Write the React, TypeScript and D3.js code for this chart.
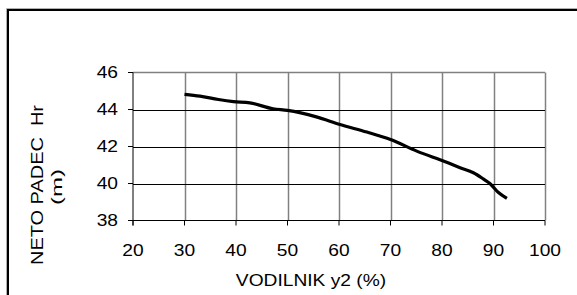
import React, { useEffect, useRef } from "react";
import * as d3 from "d3";

// VODILNIK y2 (%) vs NETO PADEC Hr (m)
const vodilnik = [30, 33, 36.6, 39.5, 42.7, 47.2, 50, 55.6, 60.2, 65.4, 70, 75.1, 80.9, 83.5, 86.1, 88, 89.3, 90.9, 92.6];
const padec = [44.82, 44.72, 44.54, 44.43, 44.36, 44.04, 43.95, 43.6, 43.19, 42.78, 42.38, 41.75, 41.15, 40.85, 40.58, 40.25, 40.0, 39.53, 39.2];
const xTicks = [20, 30, 40, 50, 60, 70, 80, 90, 100];
const yTicks = [38, 40, 42, 44, 46];

const FONT = "'Liberation Sans', Arial, sans-serif";
const STRETCH = 1.2;

const App = () => {
  const ref = useRef<SVGSVGElement>(null);

  useEffect(() => {
    const svg = d3.select(ref.current);
    svg.selectAll("*").remove();

    const x = d3.scaleLinear().domain([20, 100]).range([133, 545]);
    const y = d3.scaleLinear().domain([38, 46]).range([220.5, 72.5]);

    // chart frame (runs off the right and bottom of the picture)
    svg.append("path").attr("d", "M6.5,295 V8.5 H577").attr("fill", "none").attr("stroke", "#b0b0b0").attr("stroke-width", 1);
    svg.append("path").attr("d", "M8,295 V10 H577").attr("fill", "none").attr("stroke", "#000").attr("stroke-width", 2);

    const g = svg.append("g");

    // vertical gridlines (gray)
    g.selectAll("line.vgrid")
      .data(xTicks.slice(1))
      .enter()
      .append("line")
      .attr("class", "vgrid")
      .attr("x1", (d) => Math.round(x(d)) + 0.5)
      .attr("x2", (d) => Math.round(x(d)) + 0.5)
      .attr("y1", y(46))
      .attr("y2", y(38))
      .attr("stroke", "#808080")
      .attr("stroke-width", 1.5);

    // top border gray
    g.append("line")
      .attr("x1", x(20))
      .attr("x2", x(100))
      .attr("y1", y(46))
      .attr("y2", y(46))
      .attr("stroke", "#808080")
      .attr("stroke-width", 1.5);

    // horizontal gridlines (black)
    g.selectAll("line.hgrid")
      .data(yTicks.slice(1, -1))
      .enter()
      .append("line")
      .attr("class", "hgrid")
      .attr("x1", x(20))
      .attr("x2", x(100))
      .attr("y1", (d) => Math.round(y(d)) + 0.5)
      .attr("y2", (d) => Math.round(y(d)) + 0.5)
      .attr("stroke", "#000")
      .attr("stroke-width", 1);

    // axes
    const axisColor = "#000";
    g.append("line").attr("x1", x(20)).attr("x2", x(20)).attr("y1", y(46)).attr("y2", y(38) + 5).attr("stroke", axisColor);
    g.append("line").attr("x1", x(20) - 5).attr("x2", x(100)).attr("y1", y(38)).attr("y2", y(38)).attr("stroke", axisColor);

    g.selectAll("line.ytick")
      .data(yTicks)
      .enter()
      .append("line")
      .attr("class", "ytick")
      .attr("x1", x(20) - 5)
      .attr("x2", x(20))
      .attr("y1", (d) => y(d))
      .attr("y2", (d) => y(d))
      .attr("stroke", axisColor);

    g.selectAll("line.xtick")
      .data(xTicks)
      .enter()
      .append("line")
      .attr("class", "xtick")
      .attr("x1", (d) => x(d))
      .attr("x2", (d) => x(d))
      .attr("y1", y(38))
      .attr("y2", y(38) + 5)
      .attr("stroke", axisColor);

    // tick labels
    g.selectAll("text.ylab")
      .data(yTicks)
      .enter()
      .append("text")
      .attr("class", "ylab")
      .attr("transform", (d) => `translate(118,${y(d) + 5.6}) scale(${STRETCH},1)`)
      .attr("text-anchor", "end")
      .attr("font-family", FONT)
      .attr("font-size", 16)
      .text((d) => d);

    g.selectAll("text.xlab")
      .data(xTicks)
      .enter()
      .append("text")
      .attr("class", "xlab")
      .attr("transform", (d) => `translate(${x(d)},256) scale(${STRETCH},1)`)
      .attr("text-anchor", "middle")
      .attr("font-family", FONT)
      .attr("font-size", 16)
      .text((d) => d);

    // axis titles
    g.append("text")
      .attr("transform", `translate(311,285.5) scale(${STRETCH},1)`)
      .attr("text-anchor", "middle")
      .attr("font-family", FONT)
      .attr("font-size", 16)
      .text("VODILNIK y2 (%)");

    g.append("text")
      .attr("transform", `translate(42.5,185) rotate(-90)`)
      .attr("text-anchor", "middle")
      .attr("font-family", FONT)
      .attr("font-size", 16)
      .attr("textLength", 160)
      .attr("lengthAdjust", "spacingAndGlyphs")
      .attr("xml:space", "preserve")
      .style("white-space", "pre")
      .text("NETO PADEC  Hr");

    g.append("text")
      .attr("transform", `translate(62,187) rotate(-90)`)
      .attr("text-anchor", "middle")
      .attr("font-family", FONT)
      .attr("font-size", 14)
      .attr("textLength", 36)
      .attr("lengthAdjust", "spacingAndGlyphs")
      .text("(m)");

    // the curve
    const pts = vodilnik.map((v, i) => [v, padec[i]] as [number, number]);
    const line = d3
      .line<[number, number]>()
      .x((d) => x(d[0]))
      .y((d) => y(d[1]))
      .curve(d3.curveMonotoneX);

    g.append("path")
      .datum(pts)
      .attr("d", line)
      .attr("fill", "none")
      .attr("stroke", "#000")
      .attr("stroke-width", 3.2)
      .attr("stroke-linejoin", "round");
  }, []);

  return (
    <svg
      ref={ref}
      width={577}
      height={295}
      style={{ position: "absolute", left: 0, top: 0, background: "#fff" }}
    />
  );
};

export default App;
